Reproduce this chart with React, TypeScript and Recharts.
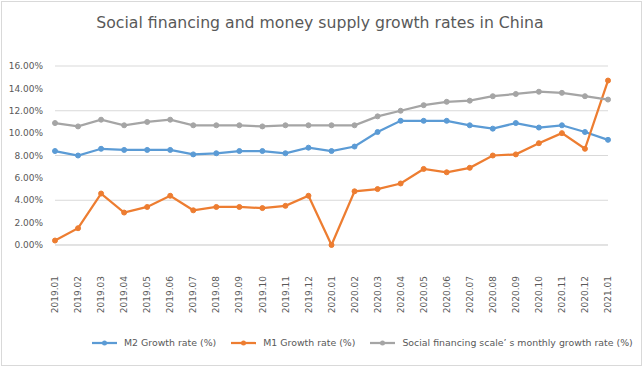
import { LineChart, Line, XAxis, YAxis, CartesianGrid, Legend } from 'recharts'

const months = [
  '2019.01', '2019.02', '2019.03', '2019.04', '2019.05', '2019.06', '2019.07',
  '2019.08', '2019.09', '2019.10', '2019.11', '2019.12', '2020.01', '2020.02',
  '2020.03', '2020.04', '2020.05', '2020.06', '2020.07', '2020.08', '2020.09',
  '2020.10', '2020.11', '2020.12', '2021.01',
]

const m2Rate = [
  8.4, 8.0, 8.6, 8.5, 8.5, 8.5, 8.1, 8.2, 8.4, 8.4, 8.2, 8.7, 8.4, 8.8,
  10.1, 11.1, 11.1, 11.1, 10.7, 10.4, 10.9, 10.5, 10.7, 10.1, 9.4,
]

const m1Rate = [
  0.4, 1.5, 4.6, 2.9, 3.4, 4.4, 3.1, 3.4, 3.4, 3.3, 3.5, 4.4, 0.0, 4.8,
  5.0, 5.5, 6.8, 6.5, 6.9, 8.0, 8.1, 9.1, 10.0, 8.6, 14.7,
]

const socialRate = [
  10.9, 10.6, 11.2, 10.7, 11.0, 11.2, 10.7, 10.7, 10.7, 10.6, 10.7, 10.7, 10.7, 10.7,
  11.5, 12.0, 12.5, 12.8, 12.9, 13.3, 13.5, 13.7, 13.6, 13.3, 13.0,
]

const yTicks = [0, 2, 4, 6, 8, 10, 12, 14, 16]

const FONT = "'DejaVu Sans', sans-serif"
const TEXT = '#595959'

const series = [
  { key: 'm2', name: 'M2 Growth rate (%)', color: '#5b9bd5' },
  { key: 'm1', name: 'M1 Growth rate (%)', color: '#ed7d31' },
  { key: 'social', name: 'Social financing scale’ s monthly growth rate (%)', color: '#a5a5a5' },
]

const data = months.map((month, i) => ({
  month,
  m2: m2Rate[i],
  m1: m1Rate[i],
  social: socialRate[i],
}))

function MonthTick({ x, y, payload }: any) {
  return (
    <g transform={`translate(${x},${y})`}>
      <text
        transform="rotate(-90)"
        x={-23}
        y={0}
        dy="0.35em"
        textAnchor="end"
        fill={TEXT}
        fontSize={9}
        fontFamily={FONT}
      >
        {payload.value}
      </text>
    </g>
  )
}

function renderLegend() {
  return (
    <div
      style={{
        display: 'flex',
        paddingLeft: 92,
        fontSize: 9.4,
        color: TEXT,
        fontFamily: FONT,
        whiteSpace: 'nowrap',
      }}
    >
      {series.map((s) => (
        <div key={s.key} style={{ display: 'flex', alignItems: 'center', marginRight: 15 }}>
          <svg width={25} height={10}>
            <line x1={0} y1={5} x2={25} y2={5} stroke={s.color} strokeWidth={2.25} />
            <circle cx={12.5} cy={5} r={2.5} fill={s.color} />
          </svg>
          <span style={{ marginLeft: 7 }}>{s.name}</span>
        </div>
      ))}
    </div>
  )
}

export default function App() {
  return (
    <div style={{ position: 'absolute', left: 0, top: 0, width: 644, height: 368, background: '#fff' }}>
      <div
        style={{
          position: 'absolute',
          left: 1,
          top: 1,
          width: 639,
          height: 363,
          border: '1px solid #d9d9d9',
        }}
      />
      <div
        style={{
          position: 'absolute',
          left: 0,
          top: 13,
          width: 640,
          textAlign: 'center',
          fontFamily: FONT,
          fontSize: 15.7,
          color: TEXT,
        }}
      >
        Social financing and money supply growth rates in China
      </div>
      <div style={{ position: 'absolute', left: 0, top: 0 }}>
        <LineChart
          width={644}
          height={368}
          data={data}
          margin={{ top: 66, right: 36, left: 0, bottom: 0 }}
        >
          <CartesianGrid vertical={false} stroke="#d9d9d9" />
          <XAxis
            dataKey="month"
            interval={0}
            height={95}
            tick={<MonthTick />}
            tickLine={false}
            axisLine={{ stroke: '#d9d9d9' }}
          />
          <YAxis
            width={55}
            domain={[0, 16]}
            ticks={yTicks}
            tickFormatter={(v: number) => v.toFixed(2) + '%'}
            tickSize={0}
            tickMargin={12}
            axisLine={false}
            tickLine={false}
            tick={{ fill: TEXT, fontSize: 9, fontFamily: FONT }}
          />
          <Legend
            verticalAlign="bottom"
            height={28}
            content={renderLegend}
            wrapperStyle={{ top: 337, left: 0, width: 644 }}
          />
          {series.map((s) => (
            <Line
              key={s.key}
              type="linear"
              dataKey={s.key}
              name={s.name}
              stroke={s.color}
              strokeWidth={2.25}
              dot={{ r: 2.5, fill: s.color, stroke: s.color, strokeWidth: 1 }}
              activeDot={false}
              isAnimationActive={false}
            />
          ))}
        </LineChart>
      </div>
    </div>
  )
}
